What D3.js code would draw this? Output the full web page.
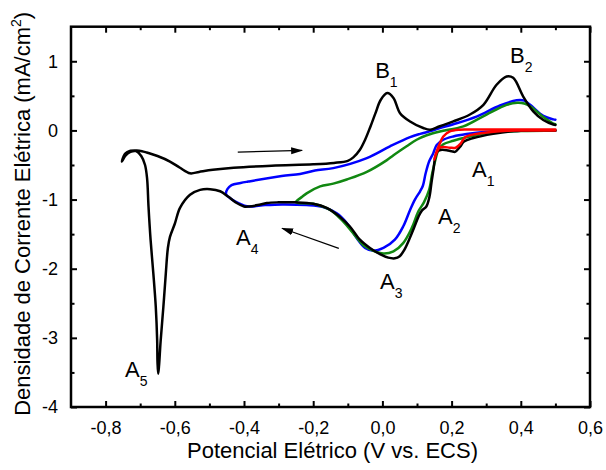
<!DOCTYPE html>
<html>
<head>
<meta charset="utf-8">
<script src="https://cdn.jsdelivr.net/npm/d3@7/dist/d3.min.js"></script>
<style>
  body { margin: 0; background: #fff; }
  svg { display: block; }
  text { font-family: Arial, "Liberation Sans", Helvetica, sans-serif; fill: #000; }
</style>
</head>
<body>
<svg id="chart" width="606" height="470"></svg>
<script>
// Axis ticks
const xMajorTicks = [-0.8, -0.6, -0.4, -0.2, 0.0, 0.2, 0.4, 0.6];
const xMinorTicks = [-0.7, -0.5, -0.3, -0.1, 0.1, 0.3, 0.5];
const yMajorTicks = [-4, -3, -2, -1, 0, 1];
const yMinorTicks = [-3.5, -2.5, -1.5, -0.5, 0.5];

// Voltammograms: [potential (V vs. ECS), current density (mA/cm²)], in sweep order
const blackSweep = [
  [0.50, 0.00], [0.44, 0.00], [0.38, -0.01], [0.32, -0.05], [0.263, -0.11], [0.236, -0.16],
  [0.224, -0.24], [0.21, -0.31], [0.20, -0.30], [0.19, -0.29], [0.172, -0.28], [0.160, -0.30],
  [0.153, -0.38], [0.148, -0.55], [0.142, -0.75], [0.136, -0.96], [0.127, -1.10], [0.114, -1.16],
  [0.104, -1.25], [0.092, -1.40], [0.078, -1.57], [0.063, -1.73], [0.050, -1.82], [0.036, -1.85],
  [0.017, -1.84], [-0.007, -1.79], [-0.036, -1.70], [-0.065, -1.58], [-0.094, -1.39],
  [-0.123, -1.25], [-0.161, -1.12], [-0.20, -1.06], [-0.25, -1.04], [-0.30, -1.04],
  [-0.334, -1.05], [-0.36, -1.08], [-0.385, -1.10], [-0.40, -1.10], [-0.421, -1.05],
  [-0.445, -0.96], [-0.469, -0.88], [-0.498, -0.85], [-0.527, -0.86], [-0.556, -0.93],
  [-0.585, -1.12], [-0.600, -1.35], [-0.614, -1.54], [-0.620, -1.70], [-0.626, -2.07],
  [-0.633, -2.55], [-0.641, -3.05], [-0.6455, -3.40], [-0.648, -3.52], [-0.650, -3.35],
  [-0.651, -3.03], [-0.655, -2.55], [-0.662, -2.07], [-0.670, -1.58], [-0.676, -1.10],
  [-0.680, -0.70], [-0.686, -0.50], [-0.697, -0.37], [-0.712, -0.30], [-0.728, -0.31],
  [-0.742, -0.36], [-0.753, -0.45],
  [-0.744, -0.34], [-0.728, -0.295], [-0.71, -0.29], [-0.695, -0.30], [-0.681, -0.32],
  [-0.65, -0.37], [-0.614, -0.45], [-0.585, -0.54], [-0.556, -0.62], [-0.53, -0.60],
  [-0.49, -0.57], [-0.43, -0.54], [-0.32, -0.51], [-0.20, -0.49], [-0.14, -0.47],
  [-0.10, -0.44], [-0.084, -0.39], [-0.065, -0.28], [-0.050, -0.135], [-0.035, 0.05],
  [-0.02, 0.25], [-0.005, 0.44], [0.014, 0.54], [0.032, 0.47], [0.051, 0.25], [0.08, 0.13],
  [0.118, 0.035], [0.138, 0.01], [0.166, 0.06], [0.205, 0.13], [0.253, 0.23], [0.292, 0.37],
  [0.33, 0.66], [0.359, 0.78], [0.378, 0.76], [0.407, 0.49], [0.436, 0.275], [0.465, 0.15],
  [0.494, 0.085], [0.50, 0.08]
];

const greenSweep = [
  [0.50, 0.00], [0.40, -0.01], [0.30, -0.04], [0.243, -0.10], [0.205, -0.15], [0.176, -0.20],
  [0.162, -0.28], [0.152, -0.45], [0.144, -0.62], [0.135, -0.86], [0.12, -1.04], [0.104, -1.17],
  [0.085, -1.41], [0.06, -1.63], [0.032, -1.75], [0.003, -1.78], [-0.026, -1.74],
  [-0.055, -1.66], [-0.084, -1.49], [-0.113, -1.32], [-0.151, -1.15], [-0.20, -1.06],
  [-0.25, -1.04],
  [-0.232, -0.96], [-0.219, -0.91], [-0.18, -0.81], [-0.142, -0.77], [-0.103, -0.71],
  [-0.045, -0.60], [0.013, -0.43], [0.032, -0.36], [0.07, -0.23], [0.099, -0.135],
  [0.128, -0.07], [0.166, -0.015], [0.234, 0.058], [0.301, 0.23], [0.359, 0.37], [0.39, 0.40],
  [0.41, 0.39], [0.427, 0.35], [0.465, 0.195], [0.494, 0.10], [0.50, 0.09]
];

const blueSweep = [
  [0.50, 0.00], [0.40, -0.005], [0.30, -0.02], [0.243, -0.052], [0.205, -0.087],
  [0.176, -0.135], [0.157, -0.21], [0.147, -0.33], [0.135, -0.45], [0.125, -0.62],
  [0.117, -0.80], [0.109, -0.88], [0.094, -1.0], [0.08, -1.15], [0.06, -1.39], [0.036, -1.58],
  [0.003, -1.70], [-0.026, -1.74], [-0.05, -1.70], [-0.074, -1.56], [-0.103, -1.34],
  [-0.132, -1.20], [-0.171, -1.11], [-0.219, -1.08], [-0.29, -1.07], [-0.339, -1.08],
  [-0.388, -1.10], [-0.416, -1.05], [-0.440, -0.98], [-0.452, -0.92],
  [-0.448, -0.85], [-0.436, -0.79], [-0.41, -0.76], [-0.388, -0.74], [-0.291, -0.66],
  [-0.238, -0.63], [-0.195, -0.58], [-0.142, -0.545], [-0.045, -0.40], [0.022, -0.23],
  [0.08, -0.097], [0.109, -0.05], [0.147, 0.0], [0.166, 0.035], [0.205, 0.09], [0.272, 0.20],
  [0.34, 0.36], [0.388, 0.435], [0.41, 0.43], [0.427, 0.37], [0.465, 0.21], [0.494, 0.16],
  [0.50, 0.155]
];

const redSweep = [
  [0.50, 0.00], [0.40, -0.002], [0.359, -0.005], [0.301, -0.03], [0.253, -0.07],
  [0.239, -0.10], [0.226, -0.19], [0.212, -0.25], [0.195, -0.25], [0.178, -0.24],
  [0.165, -0.25], [0.157, -0.32], [0.150, -0.42],
  [0.157, -0.30], [0.166, -0.19], [0.176, -0.087], [0.195, -0.015], [0.224, 0.01],
  [0.253, 0.012], [0.35, 0.012], [0.50, 0.012]
];

// Peak labels: letter, subscript index, anchor (potential, current density)
const peakLabels = [
  { letter: "B", index: "1", v: -0.021, j: 0.764 },
  { letter: "B", index: "2", v: 0.369, j: 0.981 },
  { letter: "A", index: "1", v: 0.259, j: -0.671 },
  { letter: "A", index: "2", v: 0.161, j: -1.352 },
  { letter: "A", index: "3", v: -0.007, j: -2.294 },
  { letter: "A", index: "4", v: -0.423, j: -1.657 },
  { letter: "A", index: "5", v: -0.744, j: -3.569 }
];

// Sweep direction arrows: [from, to]
const sweepArrows = [
  [[-0.418, -0.313], [-0.232, -0.29]],
  [[-0.126, -1.705], [-0.290, -1.415]]
];

const svg = d3.select("#chart");
const margin = { left: 71, right: 16, top: 26.7, bottom: 63 };
const W = 606, H = 470;
const x = d3.scaleLinear().domain([-0.9, 0.6]).range([margin.left, W - margin.right]);
const y = d3.scaleLinear().domain([-4, 1.5]).range([H - margin.bottom, margin.top]);

const fmtX = d => d3.format(".1f")(d).replace("−", "-").replace(".", ",");
const fmtY = d => d3.format("d")(d).replace("−", "-");

const x0 = x.range()[0], x1 = x.range()[1], y0 = y.range()[0], y1 = y.range()[1];

function styleAxis(g) {
  g.select(".domain").remove();
  g.selectAll(".tick line").attr("stroke", "#000").attr("stroke-width", 2);
  g.selectAll(".tick text").attr("font-size", 18).attr("fill", "#000");
}

// Bottom axis with labels
svg.append("g").attr("transform", `translate(0,${y0})`)
  .call(d3.axisBottom(x).tickValues(xMajorTicks).tickFormat(fmtX).tickSizeInner(-6).tickSizeOuter(0).tickPadding(14))
  .call(styleAxis);
svg.append("g").attr("transform", `translate(0,${y0})`)
  .call(d3.axisBottom(x).tickValues(xMinorTicks).tickFormat("").tickSizeInner(-3.5).tickSizeOuter(0))
  .call(styleAxis);
// Top mirror axis
svg.append("g").attr("transform", `translate(0,${y1})`)
  .call(d3.axisTop(x).tickValues(xMajorTicks).tickFormat("").tickSizeInner(-6).tickSizeOuter(0))
  .call(styleAxis);
svg.append("g").attr("transform", `translate(0,${y1})`)
  .call(d3.axisTop(x).tickValues(xMinorTicks).tickFormat("").tickSizeInner(-3.5).tickSizeOuter(0))
  .call(styleAxis);
// Left axis with labels
svg.append("g").attr("transform", `translate(${x0},0)`)
  .call(d3.axisLeft(y).tickValues(yMajorTicks).tickFormat(fmtY).tickSizeInner(-6).tickSizeOuter(0).tickPadding(13))
  .call(styleAxis);
svg.append("g").attr("transform", `translate(${x0},0)`)
  .call(d3.axisLeft(y).tickValues(yMinorTicks).tickFormat("").tickSizeInner(-3.5).tickSizeOuter(0))
  .call(styleAxis);
// Right mirror axis
svg.append("g").attr("transform", `translate(${x1},0)`)
  .call(d3.axisRight(y).tickValues(yMajorTicks).tickFormat("").tickSizeInner(-6).tickSizeOuter(0))
  .call(styleAxis);
svg.append("g").attr("transform", `translate(${x1},0)`)
  .call(d3.axisRight(y).tickValues(yMinorTicks).tickFormat("").tickSizeInner(-3.5).tickSizeOuter(0))
  .call(styleAxis);

// Frame
svg.append("rect")
  .attr("x", x0).attr("y", y1).attr("width", x1 - x0).attr("height", y0 - y1)
  .attr("fill", "none").attr("stroke", "#000").attr("stroke-width", 2.5);

// Curves
const line = d3.line()
  .x(d => x(d[0])).y(d => y(d[1]))
  .curve(d3.curveCatmullRom.alpha(0.5));

const series = [
  { data: blueSweep, color: "#0000ff" },
  { data: greenSweep, color: "#118811" },
  { data: blackSweep, color: "#000000" },
  { data: redSweep, color: "#ff0000" }
];
svg.append("g").selectAll("path").data(series).join("path")
  .attr("d", d => line(d.data))
  .attr("fill", "none")
  .attr("stroke", d => d.color)
  .attr("stroke-width", 2.5)
  .attr("stroke-linejoin", "round")
  .attr("stroke-linecap", "round");

// Arrows
svg.append("defs").append("marker")
  .attr("id", "head").attr("viewBox", "0 -4 12 8")
  .attr("refX", 11).attr("refY", 0)
  .attr("markerUnits", "userSpaceOnUse")
  .attr("markerWidth", 12).attr("markerHeight", 8)
  .attr("orient", "auto")
  .append("path").attr("d", "M0,-3.5L12,0L0,3.5Z").attr("fill", "#000");

svg.append("g").selectAll("line").data(sweepArrows).join("line")
  .attr("x1", d => x(d[0][0])).attr("y1", d => y(d[0][1]))
  .attr("x2", d => x(d[1][0])).attr("y2", d => y(d[1][1]))
  .attr("stroke", "#000").attr("stroke-width", 1.2)
  .attr("marker-end", "url(#head)");

// Peak labels
const lbl = svg.append("g").selectAll("text").data(peakLabels).join("text")
  .attr("x", d => x(d.v)).attr("y", d => y(d.j))
  .attr("font-size", 22);
lbl.append("tspan").text(d => d.letter);
lbl.append("tspan").attr("font-size", 14).attr("dy", 9).text(d => d.index);

// Axis titles
svg.append("text")
  .attr("x", (x0 + x1) / 2 + 2).attr("y", 458)
  .attr("text-anchor", "middle").attr("font-size", 22)
  .text("Potencial Elétrico (V vs. ECS)");

const yt = svg.append("text")
  .attr("transform", `translate(30,${(y0 + y1) / 2 - 3}) rotate(-90)`)
  .attr("text-anchor", "middle").attr("font-size", 22);
yt.append("tspan").text("Densidade de Corrente Elétrica (mA/cm");
yt.append("tspan").attr("font-size", 14).attr("dy", -9).text("2");
yt.append("tspan").attr("dy", 9).text(")");
</script>
</body>
</html>
